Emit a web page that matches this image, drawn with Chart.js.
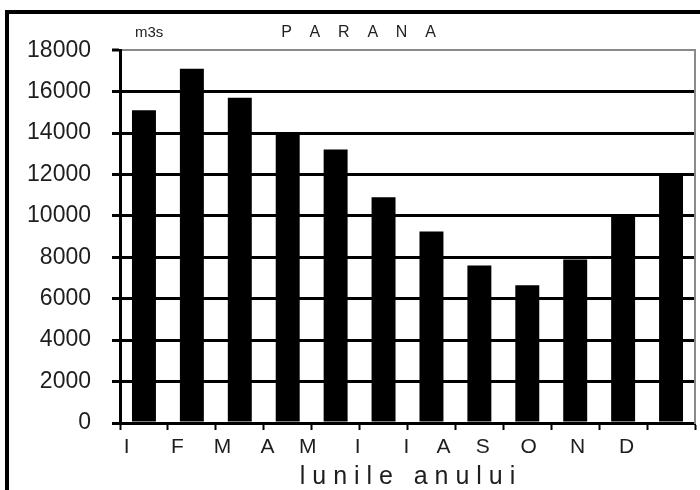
<!DOCTYPE html>
<html>
<head>
<meta charset="utf-8">
<script src="https://cdn.jsdelivr.net/npm/chart.js@4.4.1/dist/chart.umd.min.js"></script>
<style>
  html, body { margin: 0; padding: 0; background: #fff; overflow: hidden; }
  #wrap { position: relative; width: 700px; height: 490px; }
  #frame { position: absolute; left: 5px; top: 10px; width: 800px; height: 600px; border: 4px solid #000; }
  canvas { position: absolute; left: 0; top: 0; }
</style>
</head>
<body>
<div id="wrap">
  <div id="frame"></div>
  <canvas id="chart" width="700" height="490"></canvas>
</div>
<script>
// monthly discharge, m3/s
const months = ["1", "2", "3", "4", "5", "6", "7", "8", "9", "10", "11", "12"];
const flow = [15100, 17100, 15700, 14000, 13200, 10900, 9250, 7600, 6650, 7900, 10050, 12050];
// month letters as printed under the axis, and where they sit (in category units)
const monthLabels = ["I", "F", "M", "A", "M", "I", "I", "A", "S", "O", "N", "D"];
const monthTickAt = [0.14, 1.2, 2.14, 3.08, 3.92, 4.96, 5.98, 6.75, 7.57, 8.53, 9.55, 10.57];
const yTicks = [0, 2000, 4000, 6000, 8000, 10000, 12000, 14000, 16000, 18000];

Chart.defaults.font.family = "'Liberation Sans', Arial, sans-serif";
Chart.defaults.color = "#1e1e1e";

const unitLabel = {
  id: "unitLabel",
  afterDraw(chart) {
    const c = chart.ctx;
    c.save();
    c.font = "15px 'Liberation Sans', Arial, sans-serif";
    c.fillStyle = "#222";
    c.textBaseline = "middle";
    c.fillText("m3s", chart.chartArea.left + 15, 33);
    c.restore();
  }
};

const ctx = document.getElementById("chart").getContext("2d");
new Chart(ctx, {
  type: "bar",
  data: {
    labels: months,
    datasets: [{
      data: flow,
      backgroundColor: "#000",
      borderWidth: 0,
      barPercentage: 0.5,
      categoryPercentage: 1,
      xAxisID: "x",
      yAxisID: "y"
    }]
  },
  options: {
    responsive: false,
    animation: false,
    layout: { padding: { left: 22, right: 5, top: 0, bottom: 0 } },
    plugins: {
      legend: { display: false },
      tooltip: { enabled: false },
      title: {
        display: true,
        text: "P    A    R    A    N    A",
        color: "#222",
        font: { size: 16, weight: "normal", lineHeight: 1.2 },
        padding: { top: 23, bottom: 8 }
      }
    },
    scales: {
      x: {
        type: "category",
        position: "bottom",
        weight: 0,
        offset: true,
        ticks: { display: false },
        grid: {
          offset: true,
          drawOnChartArea: false,
          drawTicks: true,
          tickLength: 7,
          tickColor: "#000",
          tickWidth: 2
        },
        border: { color: "#000", width: 3 }
      },
      xl: {
        type: "linear",
        position: "bottom",
        weight: 1,
        offset: false,
        min: 0,
        max: 12,
        afterBuildTicks: axis => { axis.ticks = monthTickAt.map(v => ({ value: v })); },
        ticks: {
          autoSkip: false,
          maxRotation: 0,
          padding: 7,
          font: { size: 21, lineHeight: 1 },
          color: "#1e1e1e",
          callback: (v, i) => monthLabels[i]
        },
        grid: { display: false, drawTicks: false, offset: false },
        border: { display: false },
        title: {
          display: true,
          text: "l u n i l e   a n u l u i",
          color: "#1e1e1e",
          font: { size: 25, lineHeight: 1 },
          padding: { top: 0, bottom: 0 }
        }
      },
      y: {
        min: 0,
        max: 18000,
        afterBuildTicks: axis => { axis.ticks = yTicks.map(v => ({ value: v })); },
        afterFit: scale => { scale.width = 98; },
        ticks: {
          font: { size: 23 },
          padding: 21,
          color: "#1e1e1e",
          callback: v => String(v)
        },
        grid: {
          color: c => (c.tick && c.tick.value === 18000 ? "#8a8a8a" : "#000"),
          lineWidth: c => (c.tick && c.tick.value === 18000 ? 2 : 3),
          tickLength: 8,
          tickColor: "#000",
          tickWidth: 3
        },
        border: { color: "#000", width: 3 }
      },
      yr: {
        position: "right",
        min: 0,
        max: 18000,
        ticks: { display: false },
        grid: { display: false, drawTicks: false },
        border: { color: "#8a8a8a", width: 2 }
      }
    }
  },
  plugins: [unitLabel]
});
</script>
</body>
</html>
